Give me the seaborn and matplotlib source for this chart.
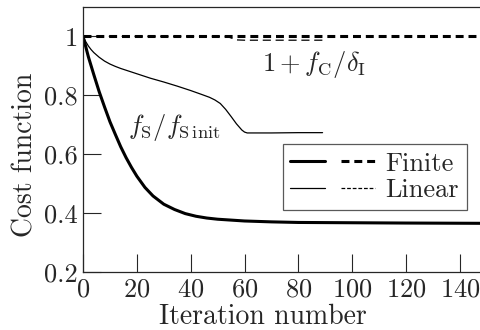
import numpy as np
import pandas as pd
import matplotlib
matplotlib.use("Agg")
import matplotlib.pyplot as plt
import seaborn as sns
from matplotlib.lines import Line2D
from matplotlib.legend_handler import HandlerTuple

# Datos
# Finite: f_S / f_S init (línea gruesa continua)
iter_finite_fs = [0, 2, 4, 6, 8, 10, 12, 14, 16, 18, 20, 23, 26, 30, 34, 38, 42,
                  46, 50, 55, 60, 70, 80, 100, 120, 150]
finite_fs = [1.0, 0.93, 0.87, 0.812, 0.76, 0.71, 0.667, 0.625, 0.588, 0.555, 0.525,
             0.487, 0.458, 0.43, 0.412, 0.398, 0.389, 0.383, 0.379, 0.376, 0.373,
             0.37, 0.368, 0.367, 0.366, 0.365]

# Finite: 1 + f_C / delta_I (línea gruesa discontinua)
iter_finite_fc = [0, 50, 100, 150]
finite_fc = [1.0, 1.0, 1.0, 1.0]

# Linear: f_S / f_S init (línea fina continua)
iter_linear_fs = [0, 1, 2, 3, 4, 6, 8, 10, 12, 14, 17, 20, 25, 30, 35, 40, 44, 47,
                  49, 51, 53, 55, 57, 59, 60, 61, 70, 80, 89]
linear_fs = [1.0, 0.982, 0.967, 0.955, 0.945, 0.929, 0.916, 0.906, 0.898, 0.891,
             0.882, 0.873, 0.858, 0.845, 0.831, 0.816, 0.803, 0.793, 0.784, 0.772,
             0.752, 0.728, 0.703, 0.682, 0.675, 0.672, 0.672, 0.673, 0.673]

# Linear: 1 + f_C / delta_I (línea fina discontinua)
iter_linear_fc = [0, 52, 54, 57, 60, 89]
linear_fc = [1.0, 1.0, 0.998, 0.988, 0.987, 0.987]

x_ticks = [0, 20, 40, 60, 80, 100, 120, 140]
y_ticks = [0.2, 0.4, 0.6, 0.8, 1.0]
y_tick_labels = ["0.2", "0.4", "0.6", "0.8", "1"]

sns.set_style("ticks")
plt.rcParams["font.family"] = "serif"
plt.rcParams["font.serif"] = ["cmr10"]
plt.rcParams["mathtext.fontset"] = "cm"
plt.rcParams["axes.formatter.use_mathtext"] = True
plt.rcParams["font.size"] = 19

fig = plt.figure(figsize=(4.8, 3.3), dpi=100)
ax = fig.add_axes([0.173, 0.176, 0.827, 0.803])

lw_thick = 2.2
lw_thin = 0.9

sns.lineplot(x=iter_finite_fs, y=finite_fs, ax=ax, color="black", lw=lw_thick)
sns.lineplot(x=iter_finite_fc, y=finite_fc, ax=ax, color="black", lw=lw_thick,
             linestyle=(0, (2.6, 1.6)))
sns.lineplot(x=iter_linear_fs, y=linear_fs, ax=ax, color="black", lw=lw_thin)
sns.lineplot(x=iter_linear_fc, y=linear_fc, ax=ax, color="black", lw=lw_thin,
             linestyle=(0, (6.5, 3.8)))

ax.text(86, 0.905, r"$1 + f_\mathrm{C}/\delta_\mathrm{I}$", ha="center", va="center")
ax.text(34, 0.69, r"$f_\mathrm{S}/f_{\mathrm{S\,init}}$", ha="center", va="center")

ax.set_xlim(0, 147.5)
ax.set_ylim(0.2, 1.1)
ax.set_xticks(x_ticks)
ax.set_yticks(y_ticks)
ax.set_yticklabels(y_tick_labels)
ax.tick_params(direction="in", length=13, width=0.8, pad=4)
ax.set_xlabel("Iteration number", labelpad=2, fontsize=20)
ax.set_ylabel("Cost function", labelpad=4, fontsize=20)
ax.xaxis.label.set_x(0.453)
ax.yaxis.label.set_y(0.442)
for s in ax.spines.values():
    s.set_linewidth(0.9)
ax.spines["right"].set_visible(False)

# Leyenda con dos muestras por entrada
h_fin = (Line2D([], [], color="black", lw=lw_thick),
         Line2D([], [], color="black", lw=lw_thick, linestyle=(0, (2.6, 1.6))))
h_lin = (Line2D([], [], color="black", lw=lw_thin),
         Line2D([], [], color="black", lw=lw_thin, linestyle=(0, (3.0, 1.5))))
leg = ax.legend([h_fin, h_lin], ["Finite", "Linear"],
                handler_map={tuple: HandlerTuple(ndivide=None, pad=0.6)},
                handlelength=3.2, loc="upper right", bbox_to_anchor=(0.967, 0.483),
                borderaxespad=0, fancybox=False, framealpha=1, edgecolor="0.35",
                handletextpad=0.4, labelspacing=0.1, borderpad=0.3)
leg.get_frame().set_linewidth(0.9)

fig.savefig("out.png", dpi=100)
